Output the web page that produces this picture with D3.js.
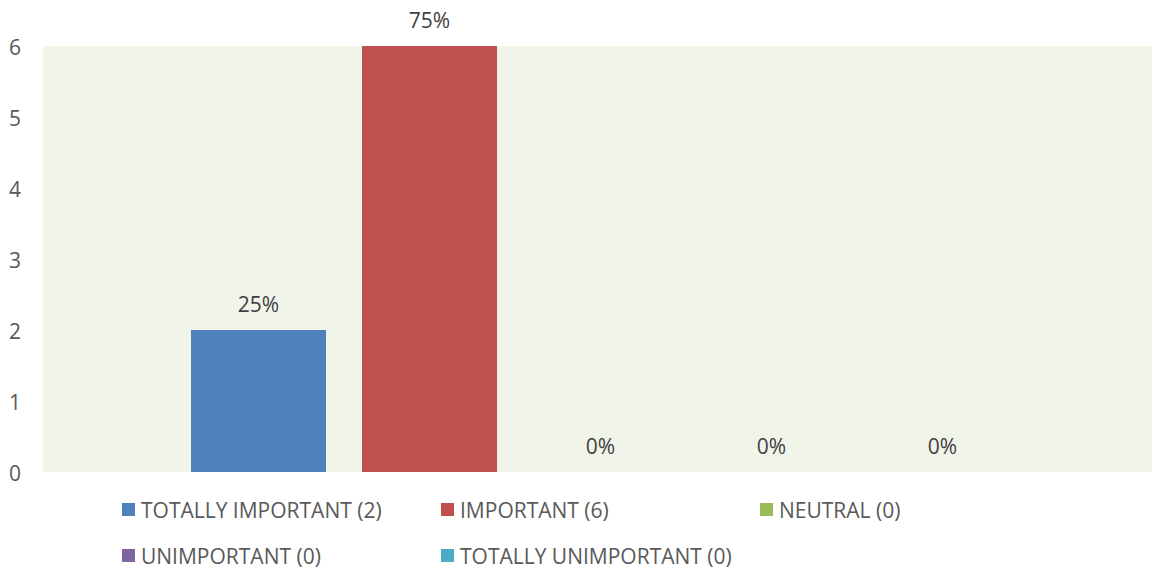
<!DOCTYPE html>
<html>
<head>
<meta charset="utf-8">
<script src="https://cdn.jsdelivr.net/npm/d3@7"></script>
<style>
  html, body { margin: 0; padding: 0; background: #ffffff; }
  svg { display: block; font-family: "Open Sans", "Noto Sans", sans-serif; }
</style>
</head>
<body>
<svg id="chart" width="1152" height="569"></svg>
<script>
// Survey responses: one category, five answer series
const seriesNames = ["TOTALLY IMPORTANT", "IMPORTANT", "NEUTRAL", "UNIMPORTANT", "TOTALLY UNIMPORTANT"];
const seriesCounts = [2, 6, 0, 0, 0];
const seriesShares = ["25%", "75%", "0%", "0%", "0%"];
const seriesColors = ["#4f81bd", "#c0504d", "#9bbb59", "#8064a2", "#4bacc6"];
const yTicks = [0, 1, 2, 3, 4, 5, 6];

const svg = d3.select("#chart");
const fontSize = "21px";

const plot = { left: 43, right: 1152, top: 46, bottom: 472 };
const group = { left: 191, right: 1010 };

const y = d3.scaleLinear().domain([0, 6]).range([plot.bottom, plot.top]);
const x = d3.scaleBand()
  .domain(seriesNames)
  .range([group.left, group.right])
  .paddingInner(36 / 171)
  .paddingOuter(0);

// plot area background
svg.append("rect")
  .attr("x", plot.left).attr("y", plot.top)
  .attr("width", plot.right - plot.left)
  .attr("height", plot.bottom - plot.top)
  .attr("fill", "#f1f4e9");

// y axis labels
const yAxis = d3.axisLeft(y).tickValues(yTicks).tickFormat(d3.format("d")).tickSize(0).tickPadding(22);
const gy = svg.append("g").attr("transform", `translate(${plot.left},0)`).call(yAxis);
gy.select(".domain").remove();
gy.selectAll("text")
  .attr("fill", "#595959")
  .attr("dy", "0.42em")
  .style("font-size", fontSize)
  .style("font-family", "'Open Sans', 'Noto Sans', sans-serif");

const data = seriesNames.map((name, i) => ({
  name, count: seriesCounts[i], share: seriesShares[i], color: seriesColors[i]
}));

// bars
svg.append("g").selectAll("rect")
  .data(data)
  .join("rect")
  .attr("x", d => x(d.name))
  .attr("y", d => y(d.count))
  .attr("width", x.bandwidth())
  .attr("height", d => y(0) - y(d.count))
  .attr("fill", d => d.color);

// percentage labels above each bar
svg.append("g").selectAll("text")
  .data(data)
  .join("text")
  .attr("x", d => x(d.name) + x.bandwidth() / 2)
  .attr("y", d => y(d.count) - 18)
  .attr("text-anchor", "middle")
  .attr("fill", "#404040")
  .style("font-size", fontSize)
  .text(d => d.share);

// legend, three items per row
const legendCols = 3;
const legendX0 = 122, legendDx = 319;
const legendY0 = 510, legendDy = 46;
const lg = svg.append("g").selectAll("g")
  .data(data)
  .join("g")
  .attr("transform", (d, i) => `translate(${legendX0 + (i % legendCols) * legendDx},${legendY0 + Math.floor(i / legendCols) * legendDy})`);
lg.append("rect")
  .attr("x", 0).attr("y", -7)
  .attr("width", 13).attr("height", 13)
  .attr("fill", d => d.color);
lg.append("text")
  .attr("x", 19).attr("y", 0)
  .attr("dy", "0.4em")
  .attr("fill", "#595959")
  .style("font-size", fontSize)
  .text(d => `${d.name} (${d.count})`);
</script>
</body>
</html>
